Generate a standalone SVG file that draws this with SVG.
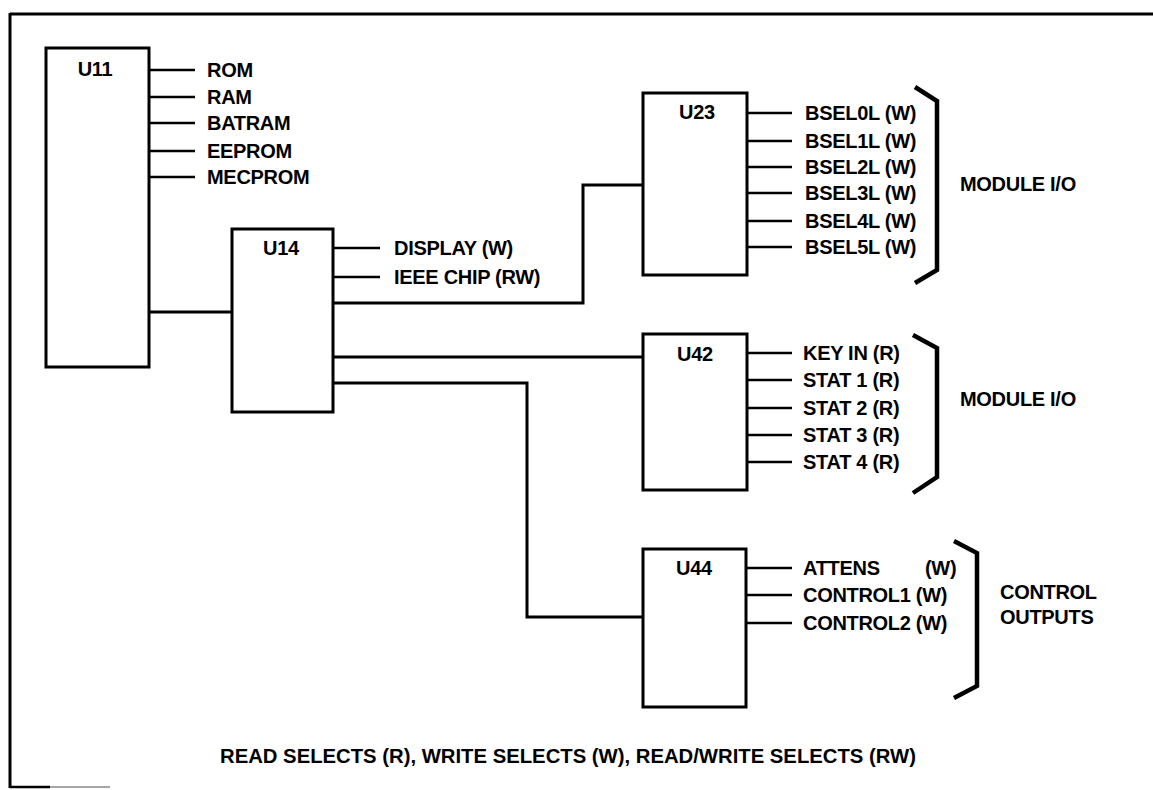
<svg xmlns="http://www.w3.org/2000/svg" width="1153" height="790" viewBox="0 0 1153 790">
<style>
.box{fill:#fff;stroke:#000;stroke-width:3}
.wire{fill:none;stroke:#000;stroke-width:3}
.stub{fill:none;stroke:#000;stroke-width:2.5}
.br{fill:none;stroke:#000;stroke-width:4.5;stroke-linejoin:miter}
text{font-family:"Liberation Sans",Arial,sans-serif;font-weight:bold;font-size:20px;fill:#000;letter-spacing:-0.3px}
.c{text-anchor:middle}
.foot{font-size:20.3px;letter-spacing:0}
</style>
<rect width="1153" height="790" fill="#fff"/>
<g id="frame">
<path d="M10,14 H1153 M10,13 V788" fill="none" stroke="#000" stroke-width="3"/>
<path d="M10,787 H50" fill="none" stroke="#000" stroke-width="2.5"/>
<path d="M50,787 H110" fill="none" stroke="#888" stroke-width="1.5"/>
</g>
<g id="connectors">
<path class="wire" d="M149,312 H232"/>
<path class="wire" d="M334,303 H583 V185 H643"/>
<path class="wire" d="M334,357 H643"/>
<path class="wire" d="M334,383 H527 V617 H643"/>
</g>
<g id="U11">
<rect class="box" x="46" y="48" width="103" height="319"/>
<text class="c" x="95" y="76">U11</text>
<path class="stub" d="M149,70 H195 M149,97 H195 M149,123 H195 M149,151 H195 M149,177 H195"/>
<text x="207" y="77">ROM</text>
<text x="207" y="104">RAM</text>
<text x="207" y="130">BATRAM</text>
<text x="207" y="158">EEPROM</text>
<text x="207" y="184">MECPROM</text>
</g>
<g id="U14">
<rect class="box" x="232" y="229" width="101" height="183"/>
<text class="c" x="281" y="255">U14</text>
<path class="stub" d="M333,248 H380 M333,277 H380"/>
<text x="394" y="255">DISPLAY (W)</text>
<text x="394" y="284">IEEE CHIP (RW)</text>
</g>
<g id="U23">
<rect class="box" x="643" y="93" width="104" height="182"/>
<text class="c" x="697" y="119">U23</text>
<path class="stub" d="M747,113 H792 M747,141 H792 M747,167 H792 M747,193 H792 M747,221 H792 M747,247 H792"/>
<text x="805" y="120">BSEL0L (W)</text>
<text x="805" y="148">BSEL1L (W)</text>
<text x="805" y="174">BSEL2L (W)</text>
<text x="805" y="200">BSEL3L (W)</text>
<text x="805" y="228">BSEL4L (W)</text>
<text x="805" y="254">BSEL5L (W)</text>
<path class="br" d="M915,87 L937,101 V270 L915,283"/>
<text x="960" y="191">MODULE I/O</text>
</g>
<g id="U42">
<rect class="box" x="643" y="334" width="104" height="156"/>
<text class="c" x="695" y="361">U42</text>
<path class="stub" d="M747,353 H792 M747,380 H792 M747,408 H792 M747,435 H792 M747,462 H792"/>
<text x="803" y="360">KEY IN (R)</text>
<text x="803" y="387">STAT 1 (R)</text>
<text x="803" y="415">STAT 2 (R)</text>
<text x="803" y="442">STAT 3 (R)</text>
<text x="803" y="469">STAT 4 (R)</text>
<path class="br" d="M913,335 L937,348 V477 L913,493"/>
<text x="960" y="406">MODULE I/O</text>
</g>
<g id="U44">
<rect class="box" x="643" y="549" width="103" height="158"/>
<text class="c" x="694" y="575">U44</text>
<path class="stub" d="M746,568 H792 M746,595 H792 M746,623 H792"/>
<text x="803" y="575">ATTENS</text>
<text x="925" y="575">(W)</text>
<text x="803" y="602">CONTROL1 (W)</text>
<text x="803" y="630">CONTROL2 (W)</text>
<path class="br" d="M954,541 L977,553 V686 L954,698"/>
<text x="1000" y="599">CONTROL</text>
<text x="1000" y="624">OUTPUTS</text>
</g>
<g id="footer">
<text class="foot" x="220" y="763">READ SELECTS (R), WRITE SELECTS (W), READ/WRITE SELECTS (RW)</text>
</g>
</svg>
